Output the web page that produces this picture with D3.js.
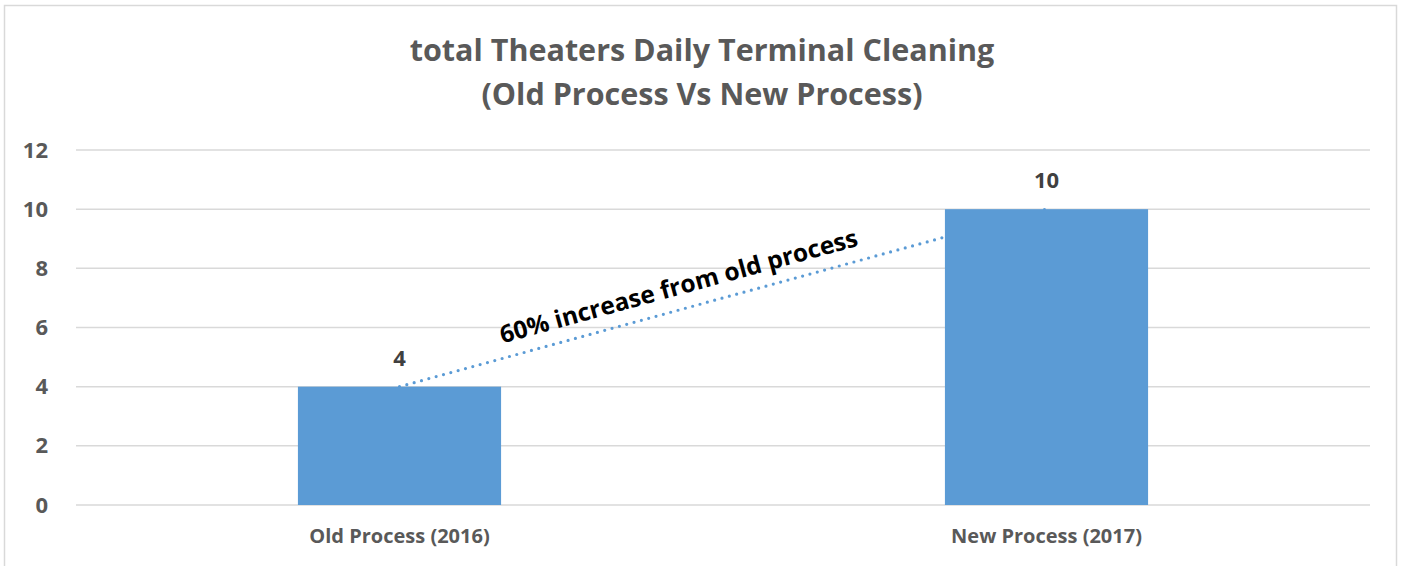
<!DOCTYPE html>
<html>
<head>
<meta charset="utf-8">
<script src="https://cdn.jsdelivr.net/npm/d3@7"></script>
<style>
  body { margin: 0; background: #fff; }
  text { font-family: "Open Sans", "Liberation Sans", sans-serif; }
</style>
</head>
<body>
<script>
// Datos del gráfico
const categorias = ["Old Process (2016)", "New Process (2017)"];
const valores = [4, 10];
const ticksY = [0, 2, 4, 6, 8, 10, 12];
const titulo = ["total Theaters Daily Terminal Cleaning", "(Old Process Vs New Process)"];
const anotacion = "60% increase from old process";

const WIDTH = 1401;
const HEIGHT = 566;
const MARGIN = { top: 150, bottom: 61, left: 76, right: 31 };
const WIDTHVIS = WIDTH - MARGIN.left - MARGIN.right;
const HEIGHTVIS = HEIGHT - MARGIN.top - MARGIN.bottom;

const AZUL = "#5B9BD5";
const GRIS = "#595959";

const svg = d3.select("body")
  .append("svg")
  .attr("width", WIDTH)
  .attr("height", HEIGHT);

// Borde del área del gráfico
svg.append("rect")
  .attr("x", 4.5).attr("y", 5.5)
  .attr("width", 1392).attr("height", 600)
  .attr("fill", "none")
  .attr("stroke", "#d9d9d9")
  .attr("stroke-width", 1.5);

// Título
svg.append("text")
  .attr("x", 702)
  .attr("y", 61)
  .attr("text-anchor", "middle")
  .attr("fill", GRIS)
  .attr("font-size", 30.5)
  .attr("font-weight", "bold")
  .selectAll("tspan")
  .data(titulo)
  .join("tspan")
  .attr("x", 702)
  .attr("dy", (d, i) => i === 0 ? 0 : 44)
  .text(d => d);

const escalaX = d3.scaleBand()
  .domain(categorias)
  .range([0, WIDTHVIS])
  .paddingInner(0.686)
  .paddingOuter(0.343);

const escalaY = d3.scaleLinear()
  .domain([0, 12])
  .range([HEIGHTVIS, 0]);

const contenedor = svg.append("g")
  .attr("transform", `translate(${MARGIN.left}, ${MARGIN.top})`);

// Líneas de grilla
contenedor.append("g")
  .selectAll("line")
  .data(ticksY)
  .join("line")
  .attr("x1", 0)
  .attr("x2", WIDTHVIS)
  .attr("y1", d => escalaY(d))
  .attr("y2", d => escalaY(d))
  .attr("stroke", "#d9d9d9")
  .attr("stroke-width", 1.5);

// Eje Y (solo etiquetas)
const ejeY = d3.axisLeft(escalaY).tickValues(ticksY).tickSize(0).tickPadding(28);
contenedor.append("g")
  .call(ejeY)
  .call(g => g.select(".domain").remove())
  .call(g => g.selectAll("text")
    .attr("fill", GRIS)
    .attr("font-size", 22)
    .attr("font-weight", "bold")
    .attr("font-family", "'Open Sans', sans-serif"));

// Eje X (solo etiquetas)
const ejeX = d3.axisBottom(escalaX).tickSize(0).tickPadding(24);
contenedor.append("g")
  .attr("transform", `translate(0, ${HEIGHTVIS})`)
  .call(ejeX)
  .call(g => g.select(".domain").remove())
  .call(g => g.selectAll("text")
    .attr("fill", GRIS)
    .attr("font-size", 20)
    .attr("font-weight", "bold")
    .attr("font-family", "'Open Sans', sans-serif"));

// Línea punteada de tendencia (detrás de las barras)
const centro = d => escalaX(d) + escalaX.bandwidth() / 2;
const puntosLinea = categorias.map((c, i) => [centro(c), escalaY(valores[i])]);
contenedor.append("path")
  .attr("d", d3.line()(puntosLinea))
  .attr("fill", "none")
  .attr("stroke", AZUL)
  .attr("stroke-width", 3.2)
  .attr("stroke-linecap", "round")
  .attr("stroke-dasharray", "0 7.6");

// Barras
contenedor.append("g")
  .selectAll("rect")
  .data(valores)
  .join("rect")
  .attr("x", (d, i) => escalaX(categorias[i]))
  .attr("y", d => escalaY(d))
  .attr("width", escalaX.bandwidth())
  .attr("height", d => HEIGHTVIS - escalaY(d))
  .attr("fill", AZUL);

// Etiquetas de datos
contenedor.append("g")
  .selectAll("text")
  .data(valores)
  .join("text")
  .attr("x", (d, i) => centro(categorias[i]))
  .attr("y", d => escalaY(d) - 21)
  .attr("text-anchor", "middle")
  .attr("fill", "#404040")
  .attr("font-size", 22)
  .attr("font-weight", "bold")
  .text(d => d);

// Anotación rotada según la pendiente de la línea
const [p0, p1] = puntosLinea;
const angulo = Math.atan2(p1[1] - p0[1], p1[0] - p0[0]) * 180 / Math.PI;
const ax = p0[0] + (p1[0] - p0[0]) * 0.435;
const ay = p0[1] + (p1[1] - p0[1]) * 0.435 - 15;
contenedor.append("text")
  .attr("transform", `translate(${ax}, ${ay}) rotate(${angulo})`)
  .attr("text-anchor", "middle")
  .attr("fill", "#000")
  .attr("font-size", 24.5)
  .attr("font-weight", "bold")
  .text(anotacion);
</script>
</body>
</html>
